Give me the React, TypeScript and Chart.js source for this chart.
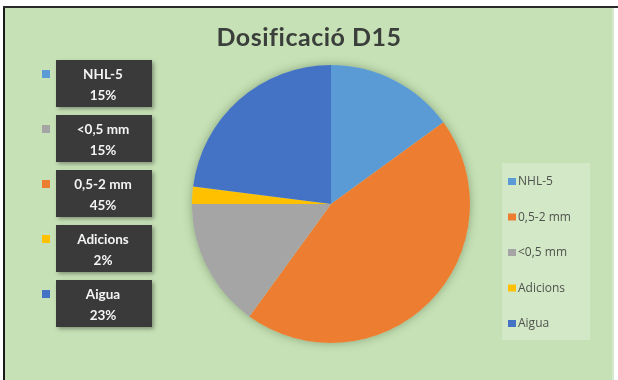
import React, { useEffect, useRef } from "react";
import { Chart, registerables } from "chart.js";
Chart.register(...registerables);

const TITLE = "Dosificació D15";
const labels = ["NHL-5", "0,5-2 mm", "<0,5 mm", "Adicions", "Aigua"];
const values = [15, 45, 15, 2, 23];
const colors = ["#5B9BD5", "#ED7D31", "#A5A5A5", "#FFC000", "#4472C4"];
const calloutOrder = [0, 2, 1, 3, 4];

const W = 618;
const H = 380;

const decorPlugin = {
  id: "decor",
  beforeDraw(chart: any) {
    const ctx = chart.ctx as CanvasRenderingContext2D;
    ctx.save();
    ctx.fillStyle = "#ffffff";
    ctx.fillRect(0, 0, W, H);
    ctx.fillStyle = "#C7E1B6";
    ctx.fillRect(5, 8, 608, H - 8);
    ctx.fillStyle = "#1a1a1a";
    ctx.fillRect(3, 6, 2, H - 6);
    ctx.fillStyle = "#2a2a2a";
    ctx.fillRect(3, 6, W - 3, 2);
    ctx.fillStyle = "#d6e9ca";
    ctx.fillRect(612, 8, 2, H - 8);

    // title
    ctx.fillStyle = "#3b3f3b";
    ctx.font = "bold 25px Lato";
    (ctx as any).letterSpacing = "0.5px";
    ctx.textAlign = "center";
    ctx.textBaseline = "middle";
    ctx.fillText(TITLE, 309, 38);
    (ctx as any).letterSpacing = "0px";

    // legend box
    ctx.fillStyle = "#D3E8C6";
    ctx.fillRect(502, 163, 88, 177);
    ctx.font = "12px 'Open Sans'";
    ctx.textAlign = "left";
    labels.forEach((lab, i) => {
      const cy = 182 + i * 35.5;
      ctx.fillStyle = colors[i];
      ctx.fillRect(508, cy - 4, 8, 7);
      ctx.fillStyle = "#4f534f";
      ctx.fillText(lab, 518, cy);
    });

    // callouts
    const total = values.reduce((a, b) => a + b, 0);
    calloutOrder.forEach((idx, k) => {
      const top = 60 + k * 55;
      ctx.fillStyle = colors[idx];
      ctx.fillRect(42, top + 10, 8, 8);
      ctx.save();
      ctx.shadowColor = "rgba(0,0,0,0.35)";
      ctx.shadowBlur = 4;
      ctx.shadowOffsetX = 2;
      ctx.shadowOffsetY = 2;
      ctx.fillStyle = "#3a3a3a";
      ctx.fillRect(56, top, 96, 47);
      ctx.restore();
      ctx.fillStyle = "#f4f4f4";
      ctx.font = "bold 13.5px Lato";
      ctx.textAlign = "center";
      ctx.fillText(labels[idx], 103, top + 15);
      ctx.fillText(Math.round((values[idx] / total) * 100) + "%", 103, top + 36);
    });
    ctx.restore();
  },
  beforeDatasetsDraw(chart: any) {
    const ctx = chart.ctx as CanvasRenderingContext2D;
    const meta = chart.getDatasetMeta(0);
    const arc = meta.data[0];
    if (!arc) return;
    ctx.save();
    ctx.shadowColor = "rgba(60,90,50,0.45)";
    ctx.shadowBlur = 10;
    ctx.fillStyle = "#C7E1B6";
    ctx.beginPath();
    ctx.arc(arc.x, arc.y, arc.outerRadius, 0, Math.PI * 2);
    ctx.fill();
    ctx.restore();
  },
};

export default function App() {
  const ref = useRef<HTMLCanvasElement>(null);
  useEffect(() => {
    if (!ref.current) return;
    const chart = new Chart(ref.current, {
      type: "pie",
      data: {
        labels,
        datasets: [
          {
            data: values,
            backgroundColor: colors,
            borderWidth: 0,
          },
        ],
      },
      options: {
        responsive: false,
        animation: false,
        layout: { padding: { top: 65, bottom: 37, left: 192, right: 148 } },
        plugins: {
          legend: { display: false },
          title: { display: false },
          tooltip: { enabled: false },
        },
      },
      plugins: [decorPlugin],
    });
    return () => chart.destroy();
  }, []);
  return (
    <div style={{ position: "fixed", left: 0, top: 0, width: W, height: H }}>
      <canvas ref={ref} width={W} height={H} style={{ width: W, height: H }} />
    </div>
  );
}
